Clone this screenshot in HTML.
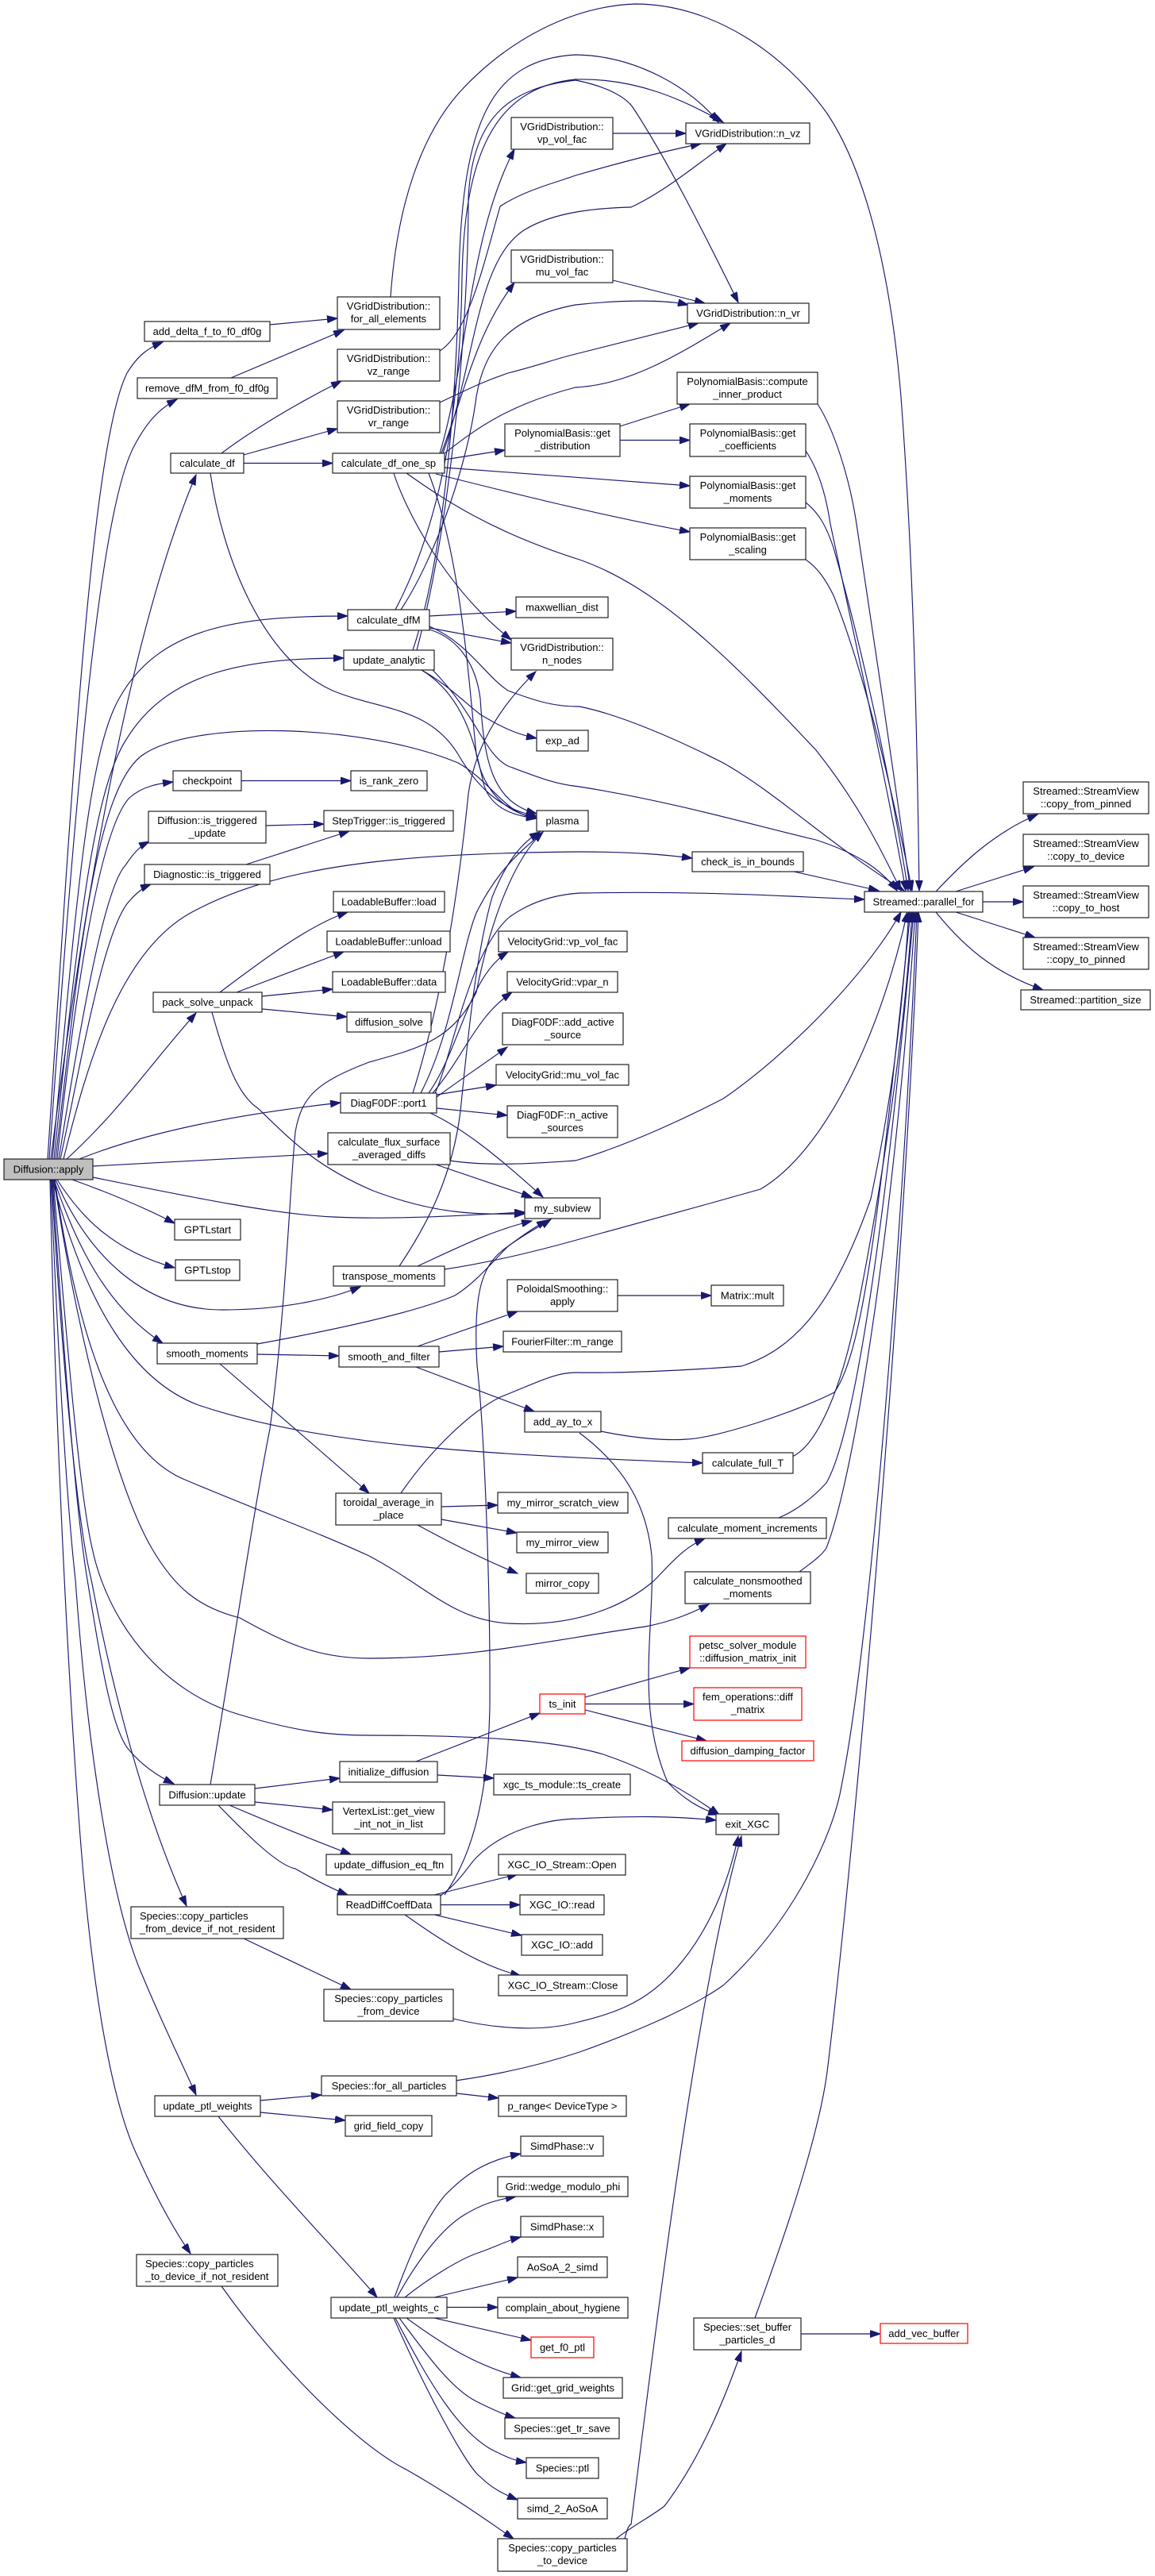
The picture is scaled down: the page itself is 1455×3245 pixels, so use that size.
<!DOCTYPE html>
<html><head><meta charset="utf-8"><style>
html,body{margin:0;padding:0;background:#fff;}
svg{display:block;}
text{font-family:"Liberation Sans",Arial,sans-serif;font-size:13px;fill:#000;}
</style></head><body>
<svg width="1455" height="3245" viewBox="0 0 1455 3245" xmlns="http://www.w3.org/2000/svg">
<defs>
<marker id="a" markerUnits="userSpaceOnUse" markerWidth="15" markerHeight="10" refX="13" refY="4.5" orient="auto"><path d="M0,0 L13,4.5 L0,9 z" fill="#191970" stroke="#191970" stroke-width="1"/></marker>
</defs>
<rect width="1455" height="3245" fill="#fff"/>
<g fill="none" stroke="#191970" stroke-width="1.15" marker-end="url(#a)">
<!-- Diffusion::apply upward -->
<path d="M60,1460 C90,1000 115,560 160,470 C175,445 190,437 205,431"/>
<path d="M62,1460 C95,1000 125,640 170,560 C185,532 200,515 223,503"/>
<path d="M64,1460 C110,1100 170,780 247,598"/>
<path d="M66,1460 C95,1150 110,950 150,880 C200,790 300,776 438,776"/>
<path d="M68,1460 C100,1150 120,990 160,930 C210,850 300,829 433,829"/>
<path d="M70,1460 C100,1200 120,1000 177,953 C240,905 460,912 577,961 C620,985 635,1025 676,1031"/>
<path d="M72,1460 C100,1200 130,1040 163,1005 C180,990 200,987 218,985"/>
<path d="M74,1460 C100,1300 130,1120 158,1090 C168,1075 176,1066 188,1060"/>
<path d="M76,1460 C100,1350 130,1170 163,1135 C172,1125 180,1118 190,1114"/>
<path d="M80,1460 C110,1340 150,1200 240,1150 C350,1090 500,1075 730,1073 C800,1073 840,1077 872,1081"/>
<path d="M84,1460 C150,1400 190,1340 247,1276"/>
<path d="M100,1460 C200,1420 330,1400 429,1389"/>
<path d="M117,1469 C200,1464 300,1459 413,1453"/>
<path d="M117,1483 C250,1510 350,1530 420,1533 C500,1537 600,1530 661,1527"/>
<path d="M91,1486 C130,1500 180,1520 220,1541"/>
<path d="M72,1486 C100,1530 140,1575 220,1597"/>
<path d="M70,1486 C110,1580 180,1650 280,1650 C360,1650 420,1635 454,1621"/>
<path d="M68,1486 C100,1580 140,1650 205,1692"/>
<path d="M66,1486 C110,1650 170,1740 250,1770 C400,1820 600,1832 885,1843"/>
<path d="M69,1486 C100,1700 150,1830 233,1864 C330,1905 400,1930 465,1960 C540,2000 570,2040 640,2045 C730,2050 790,2020 823,1992 C845,1970 860,1950 888,1938"/>
<path d="M68,1486 C100,1700 150,1880 191,1950 C220,2000 250,2025 302,2038 C360,2070 400,2089 465,2089 C600,2089 700,2065 813,2049 C850,2042 875,2030 893,2021"/>
<path d="M67,1486 C85,1700 100,1880 116,1950 C135,2040 200,2130 302,2160 C380,2183 420,2186 465,2186 C600,2186 700,2192 760,2210 C820,2230 870,2260 906,2286"/>
<path d="M66,1486 C80,1700 95,1900 110,1990 C125,2080 140,2180 163,2205 C180,2225 200,2238 219,2247"/>
<path d="M65,1486 C80,1750 100,1930 115,1990 C140,2120 180,2280 235,2401"/>
<path d="M64,1486 C75,1750 85,1900 95,1990 C110,2200 140,2400 180,2490 C205,2550 225,2590 247,2639"/>
<path d="M63,1486 C70,1800 85,2100 100,2300 C115,2500 140,2650 175,2720 C200,2775 220,2810 240,2839"/>
<!-- top cluster -->
<path d="M340,409 L425,401"/>
<path d="M291,476 L433,416"/>
<path d="M492,374 C500,260 530,170 580,115 C640,50 720,8 800,5 C900,5 990,70 1042,143 C1100,230 1125,380 1135,500 C1150,700 1155,900 1158,1122"/>
<path d="M307,583.5 L419,583.5"/>
<path d="M279,571 C320,540 380,505 430,480"/>
<path d="M307,573 L425,540"/>
<path d="M265,596 C280,700 330,830 419,870 C480,895 540,890 577,950 C600,990 630,1020 676,1028"/>
<path d="M560,579 L636,567"/>
<path d="M560,589 L869,612"/>
<path d="M549,597 C640,620 760,650 869,670"/>
<path d="M512,596 C560,630 620,670 730,705 C830,740 920,830 1028,945 C1080,1010 1110,1070 1135,1122"/>
<path d="M496,596 C510,640 560,740 644,806"/>
<path d="M540,596 C580,700 590,850 600,950 C610,1000 640,1025 676,1030"/>
<path d="M554,571 C590,450 590,300 648,188"/>
<path d="M556,571 C590,480 600,420 648,356"/>
<path d="M558,571 C600,450 600,330 660,290 C700,265 760,262 795,261 C840,240 880,205 915,181"/>
<path d="M560,571 C600,540 640,510 725,488 C790,485 850,450 920,407"/>
<path d="M781,537 L869,509"/>
<path d="M781,554.5 L869,554.5"/>
<path d="M772,168 L864,168"/>
<path d="M772,353 L888,382"/>
<path d="M554,442 C590,420 610,330 630,260 C660,240 700,230 725,221 C780,205 830,192 883,181"/>
<path d="M554,507 C590,490 610,480 640,470 C680,460 700,452 725,446 C780,432 830,420 880,407"/>
<path d="M1030,509 C1050,540 1070,600 1079,660 C1100,800 1130,1000 1147,1122"/>
<path d="M1015,568 C1030,590 1040,620 1046,660 C1080,820 1120,1000 1141,1122"/>
<path d="M1015,633 C1030,645 1040,660 1050,690 C1090,830 1125,1000 1144,1122"/>
<path d="M1015,705 C1030,715 1040,730 1050,750 C1090,850 1125,1000 1149,1122"/>
<!-- calculate_dfM / update_analytic -->
<path d="M541,776 L650,770"/>
<path d="M541,791 L644,810"/>
<path d="M541,793 C580,805 600,840 605,880 C610,960 620,1010 676,1025"/>
<path d="M541,789 C590,810 610,850 640,870 C680,885 700,890 730,890 C780,900 850,930 911,961 C980,1000 1040,1060 1139,1122"/>
<path d="M498,768 C560,650 580,500 582,350 C585,200 620,110 725,100 C800,98 860,125 911,154"/>
<path d="M505,768 C550,700 590,580 600,500 C610,440 640,400 725,384 C790,377 840,378 867,384"/>
<path d="M520,819 C560,700 575,500 578,350 C582,150 620,75 725,69 C800,70 870,110 905,154"/>
<path d="M525,819 C570,650 590,400 590,250 C595,140 650,110 725,101 C770,110 790,125 797,135 C840,200 890,300 930,381"/>
<path d="M531,844 C560,860 580,880 605,900 C630,915 650,925 676,930"/>
<path d="M531,844 C590,880 600,950 610,990 C620,1020 650,1028 676,1031"/>
<path d="M545,844 C600,900 610,950 640,965 C680,980 700,988 730,991 C850,1010 950,1040 1028,1058 C1080,1075 1110,1095 1130,1122"/>
<!-- middle -->
<path d="M304,983.5 L442,983.5"/>
<path d="M335,1040 L408,1038"/>
<path d="M310,1089 L440,1047"/>
<path d="M1000,1098 L1107,1122"/>
<path d="M277,1250 C330,1210 390,1165 438,1149"/>
<path d="M298,1250 L433,1199"/>
<path d="M330,1255 L419,1246"/>
<path d="M330,1271 L437,1281"/>
<path d="M267,1275 C285,1340 300,1380 326,1397 C370,1440 400,1470 470,1500 C550,1530 600,1530 661,1529"/>
<path d="M1179,1123 C1210,1090 1250,1050 1307,1026"/>
<path d="M1204,1123 L1302,1092"/>
<path d="M1238,1136 L1289,1136"/>
<path d="M1204,1149 L1304,1181"/>
<path d="M1179,1149 C1220,1200 1260,1228 1314,1247"/>
<!-- DiagF0DF::port1 -->
<path d="M550,1379 L625,1367"/>
<path d="M550,1396 L639,1405"/>
<path d="M542,1402 C580,1420 620,1450 684,1508"/>
<path d="M550,1382 C580,1360 610,1340 639,1319"/>
<path d="M540,1377 C580,1320 590,1230 640,1199"/>
<path d="M545,1377 C585,1330 600,1280 645,1250"/>
<path d="M530,1377 C570,1300 580,1200 600,1150 C630,1090 660,1070 684,1048"/>
<path d="M520,1377 C560,1250 580,1100 590,1000 C600,930 640,880 675,846"/>
<path d="M548,1377 C570,1330 590,1200 642,1155 C670,1135 700,1127 730,1125 C900,1122 1000,1130 1089,1133"/>
<path d="M549,1467 L670,1508"/>
<path d="M566,1462 C620,1470 680,1465 725,1462 C800,1440 880,1400 911,1384 C990,1330 1090,1230 1135,1149"/>
<path d="M526,1595 C580,1570 620,1550 670,1538"/>
<path d="M560,1599 C620,1590 680,1575 730,1561 C790,1545 880,1520 958,1498 C1040,1450 1110,1300 1143,1149"/>
<path d="M503,1595 C540,1540 570,1480 580,1400 C590,1300 600,1200 620,1130 C640,1080 660,1060 680,1048"/>
<path d="M324,1693 C450,1670 530,1650 573,1632 C600,1615 620,1590 640,1570 C660,1555 675,1545 689,1537"/>
<path d="M324,1706 L427,1708"/>
<path d="M277,1718 L465,1881"/>
<path d="M526,1696 L652,1652"/>
<path d="M553,1703 L634,1696"/>
<path d="M524,1722 L673,1778"/>
<path d="M778,1632 L896,1632"/>
<path d="M556,1898 L627,1896"/>
<path d="M556,1914 L651,1931"/>
<path d="M526,1921 C570,1945 610,1965 652,1982"/>
<path d="M505,1881 C540,1830 590,1780 630,1760 C680,1740 700,1729 725,1729 C800,1730 880,1725 934,1721 C1000,1700 1050,1645 1097,1510 C1120,1400 1135,1300 1145,1149"/>
<path d="M730,1805 C790,1850 815,1900 821,1960 C825,2050 800,2150 841,2245 C860,2265 880,2278 905,2286"/>
<path d="M757,1803 C800,1812 840,1815 865,1813 C900,1812 1000,1780 1051,1754 C1090,1700 1110,1500 1147,1149"/>
<path d="M998,1835 C1030,1820 1060,1750 1080,1650 C1110,1500 1140,1300 1149,1149"/>
<path d="M981,1912 C1010,1900 1030,1880 1041,1868 C1080,1800 1120,1500 1151,1149"/>
<path d="M1007,1980 C1020,1970 1035,1960 1041,1950 C1080,1850 1130,1500 1153,1149"/>
<!-- lower -->
<path d="M574,2621 C650,2610 700,2595 730,2585 C800,2560 870,2530 911,2501 C1000,2420 1050,2310 1060,2250 C1100,2050 1140,1500 1155,1149"/>
<path d="M951,2920 C980,2840 1030,2700 1042,2610 C1080,2300 1140,1600 1157,1149"/>
<path d="M776,3198 C800,3180 820,3170 837,3157 C880,3100 910,3030 934,2962"/>
<path d="M787,3198 C790,3185 793,3180 795,3180 C830,2900 880,2500 934,2313"/>
<path d="M571,2543 C620,2555 680,2560 725,2548 C780,2535 820,2520 860,2470 C900,2420 920,2360 930,2313"/>
<path d="M1009,2940 L1109,2940"/>
<path d="M555,2388 C580,2370 590,2350 600,2340 C640,2300 700,2291 730,2291 C800,2287 850,2288 902,2293"/>
<path d="M547,2387 L652,2361"/>
<path d="M555,2399.5 L655,2399.5"/>
<path d="M547,2412 L657,2438"/>
<path d="M510,2412 C550,2440 600,2475 656,2489"/>
<path d="M560,2387 C600,2330 615,2250 617,2150 C618,2000 610,1800 601,1720 C595,1620 610,1590 640,1570 C660,1555 680,1545 694,1536"/>
<path d="M265,2248 C290,2100 320,1900 340,1800 C360,1650 365,1500 372,1426 C380,1380 400,1363 465,1338 C530,1320 570,1310 600,1250 C620,1150 650,1080 684,1048"/>
<path d="M321,2253 L428,2240"/>
<path d="M321,2270 L419,2280"/>
<path d="M289,2274 C350,2300 400,2320 442,2336"/>
<path d="M275,2274 C310,2310 350,2350 372,2354 C400,2370 420,2380 438,2387"/>
<path d="M524,2219 L680,2158"/>
<path d="M551,2236 L622,2240"/>
<path d="M737,2138 L869,2101"/>
<path d="M737,2146.5 L874,2146.5"/>
<path d="M737,2154 L890,2193"/>
<path d="M307,2442 L442,2506"/>
<path d="M328,2646 L405,2639"/>
<path d="M328,2661 L435,2671"/>
<path d="M275,2666 C350,2760 420,2830 475,2894"/>
<path d="M575,2637 L628,2643"/>
<path d="M279,2880 C350,2980 450,3080 512,3111 C580,3150 620,3180 647,3198"/>
<path d="M497,2894 C520,2830 540,2790 560,2766 C585,2740 610,2722 656,2713"/>
<path d="M500,2894 C530,2840 560,2805 585,2790 C605,2778 620,2772 650,2767"/>
<path d="M510,2894 C540,2870 580,2845 605,2837 C625,2830 640,2822 656,2818"/>
<path d="M547,2894 L652,2869"/>
<path d="M563,2906.5 L627,2906.5"/>
<path d="M547,2920 L669,2948"/>
<path d="M512,2920 C560,2955 600,2980 656,2995"/>
<path d="M503,2920 C540,2970 570,3010 600,3025 C620,3035 635,3042 649,3046"/>
<path d="M498,2920 C540,3000 580,3070 628,3090 C640,3096 650,3100 663,3102"/>
<path d="M496,2920 C540,3020 590,3110 605,3120 C620,3135 635,3142 652,3149"/>
</g>
<g fill="#fff" stroke="#222" stroke-width="1.2">
<rect x="5" y="1460" width="112" height="26" fill="#bfbfbf"/>
<rect x="182" y="405" width="158" height="25"/>
<rect x="173" y="476" width="176" height="26"/>
<rect x="425" y="374" width="129" height="41"/>
<rect x="425" y="440" width="129" height="40"/>
<rect x="425" y="505" width="129" height="40"/>
<rect x="215" y="571" width="92" height="25"/>
<rect x="419" y="571" width="141" height="25"/>
<rect x="644" y="148" width="128" height="40"/>
<rect x="644" y="315" width="128" height="41"/>
<rect x="864" y="155" width="156" height="26"/>
<rect x="866" y="382" width="153" height="25"/>
<rect x="853" y="469" width="177" height="40"/>
<rect x="636" y="534" width="145" height="41"/>
<rect x="869" y="534" width="146" height="41"/>
<rect x="869" y="600" width="146" height="40"/>
<rect x="869" y="665" width="146" height="40"/>
<rect x="438" y="768" width="103" height="26"/>
<rect x="433" y="819" width="114" height="25"/>
<rect x="650" y="752" width="116" height="26"/>
<rect x="644" y="804" width="128" height="40"/>
<rect x="676" y="920" width="65" height="26"/>
<rect x="676" y="1021" width="65" height="26"/>
<rect x="218" y="971" width="86" height="25"/>
<rect x="442" y="971" width="96" height="25"/>
<rect x="187" y="1022" width="148" height="40"/>
<rect x="408" y="1021" width="163" height="26"/>
<rect x="182" y="1089" width="158" height="25"/>
<rect x="872" y="1073" width="140" height="25"/>
<rect x="420" y="1123" width="140" height="26"/>
<rect x="412" y="1173" width="155" height="26"/>
<rect x="419" y="1224" width="142" height="26"/>
<rect x="193" y="1250" width="137" height="25"/>
<rect x="437" y="1275" width="106" height="25"/>
<rect x="628" y="1173" width="162" height="26"/>
<rect x="639" y="1224" width="139" height="26"/>
<rect x="633" y="1276" width="152" height="40"/>
<rect x="625" y="1341" width="167" height="26"/>
<rect x="429" y="1377" width="121" height="25"/>
<rect x="639" y="1393" width="139" height="40"/>
<rect x="413" y="1427" width="154" height="40"/>
<rect x="1089" y="1123" width="149" height="26"/>
<rect x="1289" y="985" width="158" height="40"/>
<rect x="1289" y="1051" width="158" height="40"/>
<rect x="1289" y="1116" width="158" height="40"/>
<rect x="1289" y="1181" width="158" height="40"/>
<rect x="1286" y="1247" width="163" height="25"/>
<rect x="661" y="1509" width="95" height="26"/>
<rect x="220" y="1536" width="83" height="26"/>
<rect x="221" y="1587" width="81" height="26"/>
<rect x="420" y="1595" width="140" height="25"/>
<rect x="639" y="1612" width="139" height="40"/>
<rect x="896" y="1619" width="91" height="26"/>
<rect x="198" y="1692" width="126" height="26"/>
<rect x="427" y="1696" width="126" height="26"/>
<rect x="634" y="1677" width="149" height="26"/>
<rect x="661" y="1778" width="96" height="26"/>
<rect x="885" y="1830" width="114" height="26"/>
<rect x="423" y="1881" width="133" height="40"/>
<rect x="627" y="1880" width="164" height="26"/>
<rect x="651" y="1930" width="115" height="26"/>
<rect x="842" y="1912" width="199" height="26"/>
<rect x="663" y="1982" width="91" height="25"/>
<rect x="863" y="1980" width="158" height="40"/>
<rect x="869" y="2061" width="146" height="40" stroke="#ff0000"/>
<rect x="874" y="2126" width="136" height="41" stroke="#ff0000"/>
<rect x="859" y="2193" width="166" height="25" stroke="#ff0000"/>
<rect x="680" y="2134" width="57" height="25" stroke="#ff0000"/>
<rect x="428" y="2219" width="123" height="26"/>
<rect x="622" y="2235" width="172" height="26"/>
<rect x="201" y="2248" width="120" height="26"/>
<rect x="419" y="2270" width="141" height="40"/>
<rect x="902" y="2285" width="79" height="26"/>
<rect x="411" y="2336" width="158" height="26"/>
<rect x="628" y="2336" width="160" height="26"/>
<rect x="425" y="2387" width="130" height="25"/>
<rect x="655" y="2387" width="106" height="25"/>
<rect x="165" y="2402" width="192" height="40"/>
<rect x="657" y="2437" width="102" height="26"/>
<rect x="628" y="2488" width="162" height="26"/>
<rect x="408" y="2506" width="163" height="40"/>
<rect x="405" y="2615" width="170" height="25"/>
<rect x="195" y="2640" width="133" height="26"/>
<rect x="628" y="2640" width="161" height="26"/>
<rect x="435" y="2665" width="109" height="26"/>
<rect x="656" y="2691" width="104" height="25"/>
<rect x="627" y="2742" width="164" height="25"/>
<rect x="656" y="2792" width="104" height="26"/>
<rect x="652" y="2843" width="113" height="26"/>
<rect x="172" y="2840" width="178" height="40"/>
<rect x="417" y="2894" width="146" height="26"/>
<rect x="627" y="2894" width="164" height="26"/>
<rect x="669" y="2944" width="79" height="26" stroke="#ff0000"/>
<rect x="634" y="2995" width="150" height="26"/>
<rect x="636" y="3046" width="144" height="26"/>
<rect x="663" y="3096" width="91" height="26"/>
<rect x="652" y="3147" width="113" height="26"/>
<rect x="627" y="3198" width="163" height="41"/>
<rect x="874" y="2920" width="135" height="40"/>
<rect x="1109" y="2927" width="110" height="25" stroke="#ff0000"/>
</g>
<g text-anchor="middle">
<text x="61" y="1477.5">Diffusion::apply</text>
<text x="261" y="422">add_delta_f_to_f0_df0g</text>
<text x="261" y="493.5">remove_dfM_from_f0_df0g</text>
<text x="489.5" y="390">VGridDistribution::</text><text x="489.5" y="406">for_all_elements</text>
<text x="489.5" y="456">VGridDistribution::</text><text x="489.5" y="472">vz_range</text>
<text x="489.5" y="521">VGridDistribution::</text><text x="489.5" y="537">vr_range</text>
<text x="261" y="588">calculate_df</text>
<text x="489.5" y="588">calculate_df_one_sp</text>
<text x="708" y="164">VGridDistribution::</text><text x="708" y="180">vp_vol_fac</text>
<text x="708" y="331">VGridDistribution::</text><text x="708" y="347">mu_vol_fac</text>
<text x="942" y="172.5">VGridDistribution::n_vz</text>
<text x="942.5" y="399">VGridDistribution::n_vr</text>
<text x="941.5" y="485">PolynomialBasis::compute</text><text x="941.5" y="501">_inner_product</text>
<text x="708.5" y="550">PolynomialBasis::get</text><text x="708.5" y="566">_distribution</text>
<text x="942" y="550">PolynomialBasis::get</text><text x="942" y="566">_coefficients</text>
<text x="942" y="616">PolynomialBasis::get</text><text x="942" y="632">_moments</text>
<text x="942" y="681">PolynomialBasis::get</text><text x="942" y="697">_scaling</text>
<text x="489.5" y="785.5">calculate_dfM</text>
<text x="490" y="836">update_analytic</text>
<text x="708" y="769.5">maxwellian_dist</text>
<text x="708" y="820">VGridDistribution::</text><text x="708" y="836">n_nodes</text>
<text x="708.5" y="937.5">exp_ad</text>
<text x="708.5" y="1038.5">plasma</text>
<text x="261" y="988">checkpoint</text>
<text x="490" y="988">is_rank_zero</text>
<text x="261" y="1038">Diffusion::is_triggered</text><text x="261" y="1054">_update</text>
<text x="489.5" y="1038.5">StepTrigger::is_triggered</text>
<text x="261" y="1106">Diagnostic::is_triggered</text>
<text x="942" y="1090">check_is_in_bounds</text>
<text x="490" y="1140.5">LoadableBuffer::load</text>
<text x="489.5" y="1190.5">LoadableBuffer::unload</text>
<text x="490" y="1241.5">LoadableBuffer::data</text>
<text x="261.5" y="1267">pack_solve_unpack</text>
<text x="490" y="1292">diffusion_solve</text>
<text x="709" y="1190.5">VelocityGrid::vp_vol_fac</text>
<text x="708.5" y="1241.5">VelocityGrid::vpar_n</text>
<text x="709" y="1292">DiagF0DF::add_active</text><text x="709" y="1308">_source</text>
<text x="708.5" y="1358.5">VelocityGrid::mu_vol_fac</text>
<text x="489.5" y="1394">DiagF0DF::port1</text>
<text x="708.5" y="1409">DiagF0DF::n_active</text><text x="708.5" y="1425">_sources</text>
<text x="490" y="1443">calculate_flux_surface</text><text x="490" y="1459">_averaged_diffs</text>
<text x="1163.5" y="1140.5">Streamed::parallel_for</text>
<text x="1368" y="1001">Streamed::StreamView</text><text x="1368" y="1017">::copy_from_pinned</text>
<text x="1368" y="1067">Streamed::StreamView</text><text x="1368" y="1083">::copy_to_device</text>
<text x="1368" y="1132">Streamed::StreamView</text><text x="1368" y="1148">::copy_to_host</text>
<text x="1368" y="1197">Streamed::StreamView</text><text x="1368" y="1213">::copy_to_pinned</text>
<text x="1367.5" y="1264">Streamed::partition_size</text>
<text x="708.5" y="1526.5">my_subview</text>
<text x="261.5" y="1553.5">GPTLstart</text>
<text x="261.5" y="1604.5">GPTLstop</text>
<text x="490" y="1612">transpose_moments</text>
<text x="708.5" y="1628">PoloidalSmoothing::</text><text x="708.5" y="1644">apply</text>
<text x="941.5" y="1636.5">Matrix::mult</text>
<text x="261" y="1709.5">smooth_moments</text>
<text x="490" y="1713.5">smooth_and_filter</text>
<text x="708.5" y="1694.5">FourierFilter::m_range</text>
<text x="709" y="1795.5">add_ay_to_x</text>
<text x="942" y="1847.5">calculate_full_T</text>
<text x="489.5" y="1897">toroidal_average_in</text><text x="489.5" y="1913">_place</text>
<text x="709" y="1897.5">my_mirror_scratch_view</text>
<text x="708.5" y="1947.5">my_mirror_view</text>
<text x="941.5" y="1929.5">calculate_moment_increments</text>
<text x="708.5" y="1999">mirror_copy</text>
<text x="942" y="1996">calculate_nonsmoothed</text><text x="942" y="2012">_moments</text>
<text x="942" y="2077">petsc_solver_module</text><text x="942" y="2093">::diffusion_matrix_init</text>
<text x="942" y="2142">fem_operations::diff</text><text x="942" y="2158">_matrix</text>
<text x="942" y="2210">diffusion_damping_factor</text>
<text x="708.5" y="2151">ts_init</text>
<text x="489.5" y="2236.5">initialize_diffusion</text>
<text x="708" y="2252.5">xgc_ts_module::ts_create</text>
<text x="261" y="2265.5">Diffusion::update</text>
<text x="489.5" y="2286">VertexList::get_view</text><text x="489.5" y="2302">_int_not_in_list</text>
<text x="941.5" y="2302.5">exit_XGC</text>
<text x="490" y="2353.5">update_diffusion_eq_ftn</text>
<text x="708" y="2353.5">XGC_IO_Stream::Open</text>
<text x="490" y="2404">ReadDiffCoeffData</text>
<text x="708" y="2404">XGC_IO::read</text>
<text x="708" y="2454.5">XGC_IO::add</text>
<text x="709" y="2505.5">XGC_IO_Stream::Close</text>
<text x="489.5" y="2522">Species::copy_particles</text><text x="489.5" y="2538">_from_device</text>
<text x="490" y="2632">Species::for_all_particles</text>
<text x="261.5" y="2657.5">update_ptl_weights</text>
<text x="708.5" y="2657.5">p_range&lt; DeviceType &gt;</text>
<text x="489.5" y="2682.5">grid_field_copy</text>
<text x="708" y="2708">SimdPhase::v</text>
<text x="709" y="2759">Grid::wedge_modulo_phi</text>
<text x="708" y="2809.5">SimdPhase::x</text>
<text x="708.5" y="2860.5">AoSoA_2_simd</text>
<text x="490" y="2911.5">update_ptl_weights_c</text>
<text x="709" y="2911.5">complain_about_hygiene</text>
<text x="708.5" y="2961.5">get_f0_ptl</text>
<text x="709" y="3012.5">Grid::get_grid_weights</text>
<text x="708" y="3063.5">Species::get_tr_save</text>
<text x="708.5" y="3113.5">Species::ptl</text>
<text x="708.5" y="3164.5">simd_2_AoSoA</text>
<text x="708.5" y="3214">Species::copy_particles</text><text x="708.5" y="3230">_to_device</text>
<text x="941.5" y="2936">Species::set_buffer</text><text x="941.5" y="2952">_particles_d</text>
<text x="1164" y="2944">add_vec_buffer</text>
</g>
<g text-anchor="start">
<text x="176" y="2418">Species::copy_particles</text><text x="176" y="2434">_from_device_if_not_resident</text>
<text x="183" y="2856">Species::copy_particles</text><text x="183" y="2872">_to_device_if_not_resident</text>
</g>
</svg>
</body></html>
